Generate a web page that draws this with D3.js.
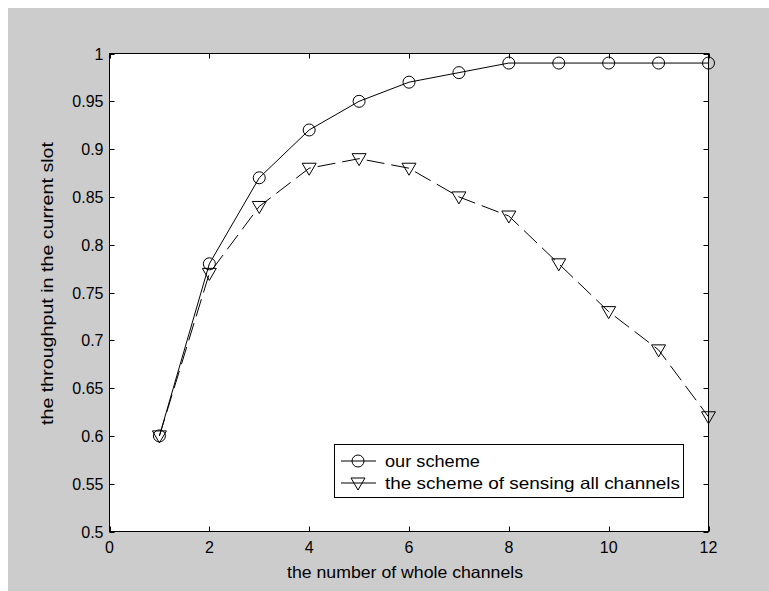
<!DOCTYPE html>
<html><head><meta charset="utf-8">
<script src="https://cdn.jsdelivr.net/npm/d3@7"></script>
<style>
html,body{margin:0;padding:0;background:#fff;}
svg{display:block;}
text{font-family:"Liberation Sans",Arial,sans-serif;fill:#000;}
</style></head>
<body>
<script>
const channels = [1,2,3,4,5,6,7,8,9,10,11,12];
const ourScheme = [0.60,0.78,0.87,0.92,0.95,0.97,0.98,0.99,0.99,0.99,0.99,0.99];
const sensingAll = [0.60,0.77,0.84,0.88,0.89,0.88,0.85,0.83,0.78,0.73,0.69,0.62];
const xTicks = [0,2,4,6,8,10,12];
const yTicks = [0.5,0.55,0.6,0.65,0.7,0.75,0.8,0.85,0.9,0.95,1];
const seriesNames = ["our scheme","the scheme of sensing all channels"];
const xLabel = "the number of whole channels";
const yLabel = "the throughput in the current slot";

const W=769,H=591;
const svg=d3.select("body").append("svg").attr("width",W).attr("height",H);
svg.append("rect").attr("x",8).attr("y",8).attr("width",W-8).attr("height",H-8).attr("fill","#cccccc");

const L=109.5,R=708.5,T=53.5,B=531.5;
const x=d3.scaleLinear().domain([0,12]).range([L,R]);
const y=d3.scaleLinear().domain([0.5,1]).range([B,T]);

svg.append("rect").attr("x",L).attr("y",T).attr("width",R-L).attr("height",B-T).attr("fill","#fff");

const tk=5;
const g=svg.append("g").attr("stroke","#000").attr("stroke-width",1);
xTicks.forEach(v=>{
  const xx=Math.round(x(v))+0.5;
  g.append("line").attr("x1",xx).attr("x2",xx).attr("y1",B).attr("y2",B-tk);
  g.append("line").attr("x1",xx).attr("x2",xx).attr("y1",T).attr("y2",T+tk);
});
yTicks.forEach(v=>{
  const yy=Math.round(y(v))+0.5;
  g.append("line").attr("x1",L).attr("x2",L+tk).attr("y1",yy).attr("y2",yy);
  g.append("line").attr("x1",R).attr("x2",R-tk).attr("y1",yy).attr("y2",yy);
});
svg.append("rect").attr("x",L).attr("y",T).attr("width",R-L).attr("height",B-T)
  .attr("fill","none").attr("stroke","#000").attr("stroke-width",1);

svg.append("g").selectAll("text").data(xTicks).join("text")
  .attr("x",d=>x(d)).attr("y",B+21).attr("text-anchor","middle")
  .attr("font-size",16).text(d=>d);
svg.append("g").selectAll("text").data(yTicks).join("text")
  .attr("x",L-6).attr("y",d=>y(d)+6).attr("text-anchor","end")
  .attr("font-size",16).text(d=>d);

svg.append("text").attr("x",287).attr("y",578)
  .attr("font-size",16.5).attr("textLength",236).attr("lengthAdjust","spacingAndGlyphs").text(xLabel);
svg.append("text").attr("transform",`translate(53,425) rotate(-90)`)
  .attr("font-size",16).attr("textLength",283).attr("lengthAdjust","spacingAndGlyphs").text(yLabel);

const line=d3.line().x((d,i)=>x(channels[i])).y(d=>y(d));
svg.append("path").datum(ourScheme).attr("d",line).attr("fill","none").attr("stroke","#000").attr("stroke-width",1);
svg.append("path").datum(sensingAll).attr("d",line).attr("fill","none").attr("stroke","#000").attr("stroke-width",1)
  .attr("stroke-dasharray","18,7");

const circ=(sel,cx,cy)=>sel.append("circle").attr("cx",cx).attr("cy",cy).attr("r",6)
  .attr("fill","none").attr("stroke","#000").attr("stroke-width",1);
const tri=(sel,cx,cy)=>sel.append("path")
  .attr("d",`M${cx-7},${cy-5}L${cx+7},${cy-5}L${cx},${cy+7}Z`)
  .attr("fill","none").attr("stroke","#000").attr("stroke-width",1);

const mk=svg.append("g");
ourScheme.forEach((v,i)=>circ(mk,x(channels[i]),y(v)));
sensingAll.forEach((v,i)=>tri(mk,x(channels[i]),y(v)));

// legend
const lg=svg.append("g");
lg.append("rect").attr("x",334.5).attr("y",444.5).attr("width",349).attr("height",53)
  .attr("fill","#fff").attr("stroke","#000").attr("stroke-width",1);
const rows=[461,483];
lg.append("line").attr("x1",341).attr("x2",376).attr("y1",rows[0]).attr("y2",rows[0]).attr("stroke","#000");
circ(lg,358,rows[0]);
lg.append("line").attr("x1",341).attr("x2",376).attr("y1",rows[1]).attr("y2",rows[1]).attr("stroke","#000");
tri(lg,358,rows[1]);
const lens=[95,295];
seriesNames.forEach((n,i)=>lg.append("text").attr("x",385).attr("y",rows[i]+6)
  .attr("font-size",16.5).attr("textLength",lens[i]).attr("lengthAdjust","spacingAndGlyphs").text(n));
</script>
</body></html>
